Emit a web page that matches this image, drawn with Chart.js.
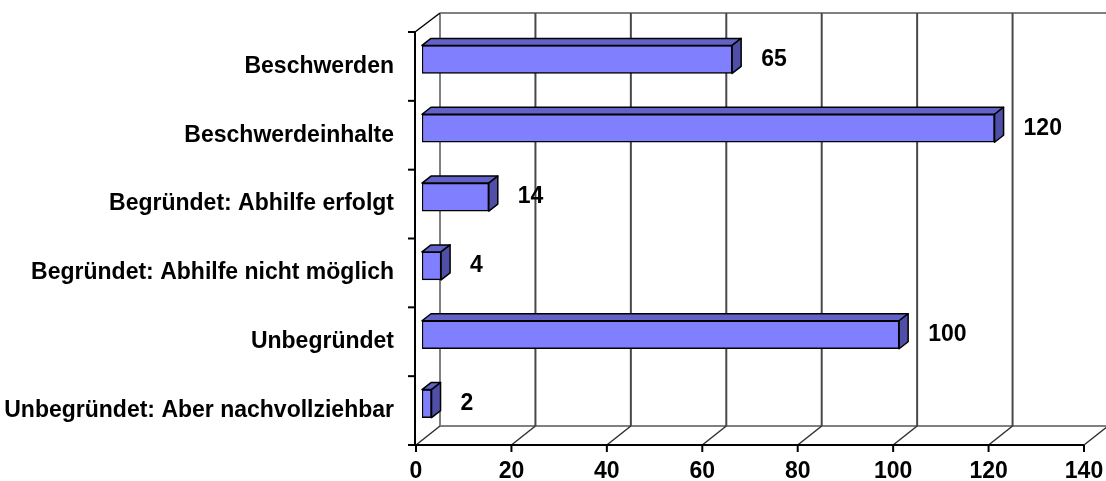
<!DOCTYPE html>
<html>
<head>
<meta charset="utf-8">
<script src="https://cdn.jsdelivr.net/npm/chart.js@4.4.1/dist/chart.umd.min.js"></script>
<style>
  html, body { margin: 0; background: #fff; }
  #wrap { width: 1106px; height: 481px; }
</style>
</head>
<body>
<div id="wrap"><canvas id="beschwerden-chart"></canvas></div>
<script>
const categories = [
    'Beschwerden',
    'Beschwerdeinhalte',
    'Begründet: Abhilfe erfolgt',
    'Begründet: Abhilfe nicht möglich',
    'Unbegründet',
    'Unbegründet: Aber nachvollziehbar'
];
const counts = [65, 120, 14, 4, 100, 2];
const xTicks = [0, 20, 40, 60, 80, 100, 120, 140];

// 3d look: depth of the walls, plane the bars sit in, and bar depth
const WALL = { x: 24, y: -19 };
const BAR_PLANE = { x: 6, y: -7 };
const BAR_DEPTH = { x: 9, y: -7 };

const FONT = 'Liberation Sans, Arial, sans-serif';

const line = (ctx, x1, y1, x2, y2) => {
    ctx.beginPath();
    ctx.moveTo(x1, y1);
    ctx.lineTo(x2, y2);
    ctx.stroke();
};

const poly = (ctx, pts, fill) => {
    ctx.beginPath();
    ctx.moveTo(pts[0][0], pts[0][1]);
    for (let i = 1; i < pts.length; i++) ctx.lineTo(pts[i][0], pts[i][1]);
    ctx.closePath();
    ctx.fillStyle = fill;
    ctx.fill();
    ctx.stroke();
};

const box3d = {
    id: 'box3d',
    beforeDatasetsDraw(chart) {
        const { ctx, chartArea: a, scales: { x, y } } = chart;
        const xMax = x.getPixelForValue(xTicks[xTicks.length - 1]);
        ctx.save();

        // back wall
        ctx.lineWidth = 2;
        ctx.strokeStyle = '#808080';
        line(ctx, a.left + WALL.x, a.top + WALL.y, xMax + WALL.x, a.top + WALL.y);
        line(ctx, a.left + WALL.x, a.bottom + WALL.y, xMax + WALL.x, a.bottom + WALL.y);
        xTicks.forEach((v, i) => {
            const px = x.getPixelForValue(v) + WALL.x;
            ctx.strokeStyle = i === 0 ? '#808080' : '#484848';
            line(ctx, px, a.top + WALL.y, px, a.bottom + WALL.y);
        });

        // floor diagonals and tick marks
        ctx.strokeStyle = '#303030';
        ctx.lineWidth = 1.5;
        xTicks.forEach(v => {
            const px = x.getPixelForValue(v);
            line(ctx, px, a.bottom, px + WALL.x, a.bottom + WALL.y);
        });
        ctx.strokeStyle = '#000';
        ctx.lineWidth = 2;
        line(ctx, a.left - 2, a.bottom, xMax, a.bottom);
        xTicks.forEach(v => {
            const px = x.getPixelForValue(v);
            line(ctx, px, a.bottom, px, a.bottom + 7);
        });

        // left wall: axis line, top diagonal, category ticks
        line(ctx, a.left - 1, a.top, a.left - 1, a.bottom + 1);
        ctx.lineWidth = 1.5;
        line(ctx, a.left - 1, a.top, a.left + WALL.x, a.top + WALL.y);
        ctx.lineWidth = 2;
        const band = (a.bottom - a.top) / categories.length;
        for (let i = 0; i <= categories.length; i++) {
            const py = a.top + i * band;
            line(ctx, a.left - 8, py, a.left - 1, py);
        }
        ctx.restore();

        // bars sit a little behind the front plane
        ctx.save();
        ctx.translate(BAR_PLANE.x, BAR_PLANE.y);
    },
    afterDatasetsDraw(chart) {
        const { ctx } = chart;
        const meta = chart.getDatasetMeta(0);
        ctx.lineWidth = 1.5;
        ctx.strokeStyle = '#000';
        ctx.lineJoin = 'round';
        meta.data.forEach(bar => {
            const { x: xe, y: yc, base, height } = bar.getProps(['x', 'y', 'base', 'height'], true);
            const t = yc - height / 2;
            const b = yc + height / 2;
            const dx = BAR_DEPTH.x, dy = BAR_DEPTH.y;
            poly(ctx, [[base, t], [xe, t], [xe + dx, t + dy], [base + dx, t + dy]], '#6262c8');
            poly(ctx, [[xe, t], [xe + dx, t + dy], [xe + dx, b + dy], [xe, b]], '#4f4fa8');
        });

        // value labels
        ctx.fillStyle = '#000';
        ctx.font = 'bold 23px ' + FONT;
        ctx.textAlign = 'left';
        ctx.textBaseline = 'middle';
        meta.data.forEach((bar, i) => {
            ctx.fillText(String(counts[i]), bar.x + BAR_DEPTH.x + 20, bar.y);
        });
        ctx.restore();
    }
};

const chartData = {
    labels: categories,
    datasets: [{
        data: counts,
        backgroundColor: '#8080ff',
        borderColor: '#000',
        borderWidth: 1.5,
        borderSkipped: false,
        barThickness: 28
    }]
};

const chartOptions = {
    indexAxis: 'y',
    responsive: true,
    maintainAspectRatio: false,
    animation: false,
    layout: {
        padding: { top: 32, right: 22, left: 0, bottom: 0 }
    },
    plugins: {
        legend: { display: false },
        tooltip: { enabled: false }
    },
    scales: {
        x: {
            min: 0,
            max: 140,
            ticks: {
                stepSize: 20,
                padding: 13,
                color: '#000',
                font: { family: FONT, size: 23, weight: 'bold' }
            },
            grid: { display: false, drawTicks: false },
            border: { display: false },
            afterFit: scale => {
                scale.height = 36;
                scale.paddingLeft = 0;
                scale.paddingRight = 0;
            }
        },
        y: {
            ticks: {
                padding: 22,
                color: '#000',
                font: { family: FONT, size: 23, weight: 'bold' }
            },
            grid: { display: false, drawTicks: false },
            border: { display: false },
            afterFit: scale => {
                scale.width = 416;
                scale.paddingTop = 0;
                scale.paddingBottom = 0;
            }
        }
    }
};

const beschwerdenChart = new Chart(document.getElementById('beschwerden-chart'), {
    type: 'bar',
    data: chartData,
    options: chartOptions,
    plugins: [box3d]
});
</script>
</body>
</html>
